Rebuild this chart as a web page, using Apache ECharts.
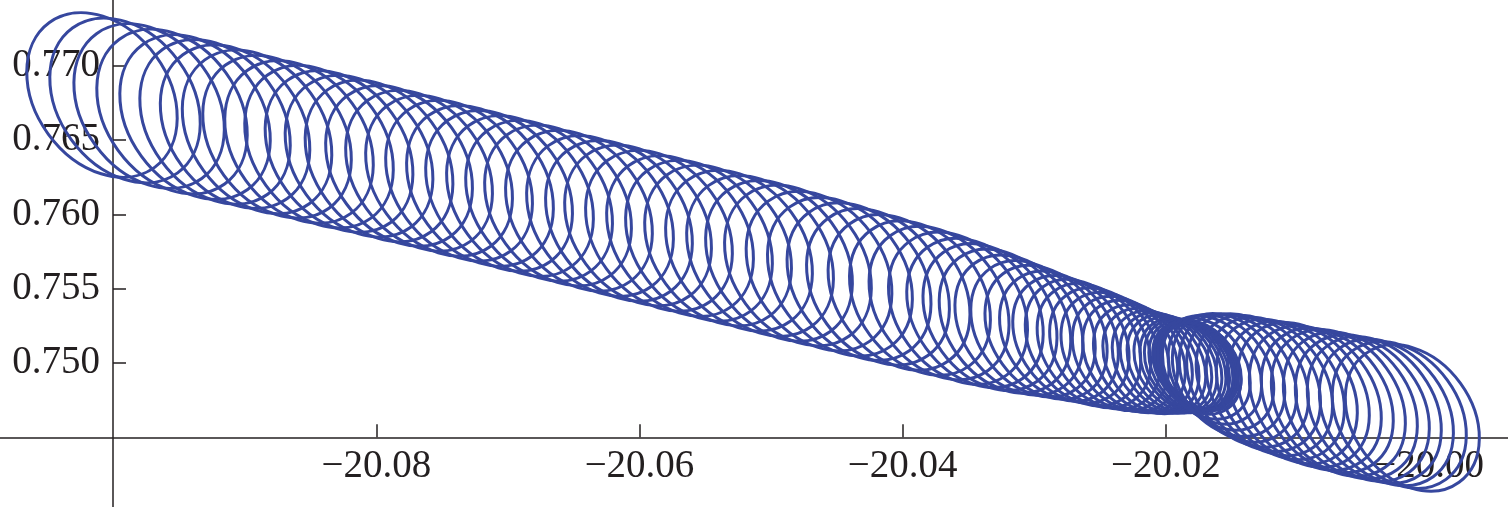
<!DOCTYPE html>
<html><head><meta charset="utf-8">
<script src="https://cdn.jsdelivr.net/npm/echarts@6/dist/echarts.min.js"></script>
<style>html,body{margin:0;padding:0;background:#fff}#c{width:1508px;height:507px}</style>
</head><body><div id="c"></div>
<script>
// Tick values and labels
const xTickValues = [-20.08, -20.06, -20.04, -20.02, -20.00];
const xTickLabels = ['\u221220.08', '\u221220.06', '\u221220.04', '\u221220.02', '\u221220.00'];
const yTickValues = [0.750, 0.755, 0.760, 0.765, 0.770];
const yTickLabels = ['0.750', '0.755', '0.760', '0.765', '0.770'];

// Loops of the trajectory: centre (x, y) and semi-axes (x units, y units)
const leftLoopX = [-20.10084,-20.09909,-20.09726,-20.09552,-20.09377,-20.09225,-20.09073,-20.08906,-20.08754,-20.08587,
 -20.08435,-20.08283,-20.08131,-20.07979,-20.07827,-20.07675,-20.07523,-20.07371,-20.07212,-20.07067,
 -20.06908,-20.06763,-20.06619,-20.06460,-20.06300,-20.06156,-20.06011,-20.05852,-20.05692,-20.05548,
 -20.05403,-20.05244,-20.05084,-20.04940,-20.04796,-20.04636,-20.04477,-20.04332,-20.04188,-20.04028,
 -20.03869,-20.03724,-20.03580,-20.03451,-20.03337,-20.03223,-20.03117,-20.03010,-20.02911,-20.02813,
 -20.02722,-20.02630,-20.02547,-20.02463,-20.02387,-20.02311,-20.02243,-20.02175,-20.02114,-20.02053,
 -20.02000,-20.01954,-20.01909,-20.01871,-20.01840,-20.01810];
const leftLoopY = [0.76803,0.76766,0.76728,0.76691,0.76654,0.76622,0.76590,0.76555,0.76522,0.76487,
 0.76455,0.76423,0.76391,0.76359,0.76326,0.76293,0.76259,0.76226,0.76191,0.76158,
 0.76123,0.76091,0.76059,0.76024,0.75989,0.75956,0.75925,0.75889,0.75854,0.75822,
 0.75790,0.75755,0.75720,0.75687,0.75656,0.75618,0.75580,0.75547,0.75512,0.75475,
 0.75437,0.75403,0.75368,0.75337,0.75309,0.75282,0.75255,0.75230,0.75206,0.75181,
 0.75159,0.75137,0.75117,0.75097,0.75078,0.75060,0.75043,0.75026,0.75013,0.75006,
 0.75000,0.74995,0.74990,0.74986,0.74983,0.74980];
const leftLoopRx = [0.00505,0.00505,0.00505,0.00505,0.00505,0.00505,0.00502,0.00502,0.00499,0.00499,
 0.00499,0.00496,0.00496,0.00496,0.00493,0.00493,0.00493,0.00493,0.00493,0.00493,
 0.00493,0.00493,0.00493,0.00493,0.00493,0.00493,0.00493,0.00493,0.00493,0.00493,
 0.00493,0.00493,0.00493,0.00493,0.00493,0.00490,0.00487,0.00484,0.00480,0.00476,
 0.00473,0.00470,0.00467,0.00459,0.00450,0.00442,0.00430,0.00418,0.00410,0.00399,
 0.00391,0.00388,0.00382,0.00372,0.00363,0.00354,0.00345,0.00332,0.00323,0.00314,
 0.00308,0.00302,0.00295,0.00289,0.00286,0.00283];
const leftLoopRy = [0.00602,0.00602,0.00602,0.00602,0.00602,0.00602,0.00598,0.00598,0.00594,0.00594,
 0.00594,0.00591,0.00591,0.00591,0.00587,0.00587,0.00587,0.00587,0.00587,0.00587,
 0.00587,0.00587,0.00587,0.00587,0.00587,0.00587,0.00587,0.00587,0.00587,0.00587,
 0.00587,0.00587,0.00587,0.00587,0.00587,0.00582,0.00579,0.00575,0.00571,0.00568,
 0.00564,0.00560,0.00556,0.00545,0.00536,0.00526,0.00512,0.00498,0.00489,0.00475,
 0.00465,0.00462,0.00454,0.00443,0.00432,0.00421,0.00410,0.00396,0.00385,0.00374,
 0.00366,0.00359,0.00352,0.00344,0.00341,0.00337];
const knotLoopX = [-20.01795,-20.01779,-20.01764,-20.01749,-20.01734];
const knotLoopY = [0.74983,0.74981,0.74980,0.74978,0.74976];
const knotLoopRx = [0.00271,0.00265,0.00265,0.00265,0.00271];
const knotLoopRy = [0.00322,0.00315,0.00315,0.00315,0.00322];
const rightLoopX = [-20.01757,-20.01711,-20.01650,-20.01582,-20.01524,-20.01453,-20.01380,-20.01298,-20.01214,-20.01131,
 -20.01040,-20.00956,-20.00865,-20.00774,-20.00690,-20.00599,-20.00508,-20.00417,-20.00325,-20.00227,
 -20.00128];
const rightLoopY = [0.74973,0.74963,0.74953,0.74936,0.74919,0.74899,0.74882,0.74862,0.74842,0.74822,
 0.74801,0.74785,0.74764,0.74748,0.74731,0.74714,0.74697,0.74684,0.74667,0.74650,
 0.74630];
const rightLoopRx = [0.00289,0.00311,0.00333,0.00355,0.00378,0.00394,0.00409,0.00418,0.00424,0.00430,
 0.00437,0.00443,0.00443,0.00443,0.00451,0.00451,0.00451,0.00451,0.00451,0.00451,
 0.00451];
const rightLoopRy = [0.00344,0.00370,0.00396,0.00422,0.00449,0.00469,0.00487,0.00497,0.00505,0.00513,
 0.00520,0.00528,0.00528,0.00528,0.00535,0.00535,0.00535,0.00535,0.00535,0.00535,
 0.00535];
// tilt of the loops, degrees
const loopTilt = 36;

function group(xs, ys, rxs, rys) {
  return xs.map((x, i) => [x, ys[i], rxs[i], rys[i]]);
}
const loops = group(leftLoopX, leftLoopY, leftLoopRx, leftLoopRy)
  .concat(group(knotLoopX, knotLoopY, knotLoopRx, knotLoopRy))
  .concat(group(rightLoopX, rightLoopY, rightLoopRx, rightLoopRy));

function labelFor(values, labels, v) {
  for (let i = 0; i < values.length; i++) if (Math.abs(values[i] - v) < 1e-6) return labels[i];
  return '';
}

const axisColor = '#231f20';
const font = 'Liberation Serif';
const chart = echarts.init(document.getElementById('c'));
chart.setOption({
  animation: false,
  grid: { left: 0, right: 0, top: 0, bottom: 0, containLabel: false },
  xAxis: {
    type: 'value', min: -20.10859, max: -19.99401, position: 'bottom', offset: -69.7,
    splitLine: { show: false },
    axisLine: { show: true, lineStyle: { color: axisColor, width: 1.5 } },
    axisTick: { show: true, inside: true, length: 13, customValues: xTickValues, lineStyle: { color: axisColor, width: 1.5 } },
    axisLabel: { show: true, customValues: xTickValues, margin: 10, color: axisColor, fontFamily: font, fontSize: 39,
      formatter: v => labelFor(xTickValues, xTickLabels, v) }
  },
  yAxis: {
    type: 'value', min: 0.740311, max: 0.774418, position: 'left', offset: -113,
    splitLine: { show: false },
    axisLine: { show: true, lineStyle: { color: axisColor, width: 1.5 } },
    axisTick: { show: true, inside: true, length: 13, customValues: yTickValues, lineStyle: { color: axisColor, width: 1.5 } },
    axisLabel: { show: true, customValues: yTickValues, margin: 13, color: axisColor, fontFamily: font, fontSize: 39,
      formatter: v => labelFor(yTickValues, yTickLabels, v) }
  },
  series: [{
    type: 'custom',
    data: loops,
    encode: { x: 0, y: 1 },
    z: 3,
    renderItem: function (params, api) {
      const c = api.coord([api.value(0), api.value(1)]);
      const s = api.size([api.value(2), api.value(3)]);
      return {
        type: 'ellipse',
        x: c[0], y: c[1],
        rotation: loopTilt * Math.PI / 180,
        shape: { cx: 0, cy: 0, rx: Math.abs(s[0]), ry: Math.abs(s[1]) },
        style: { fill: 'none', stroke: '#36479e', lineWidth: 3 }
      };
    }
  }]
});
</script>
</body></html>
